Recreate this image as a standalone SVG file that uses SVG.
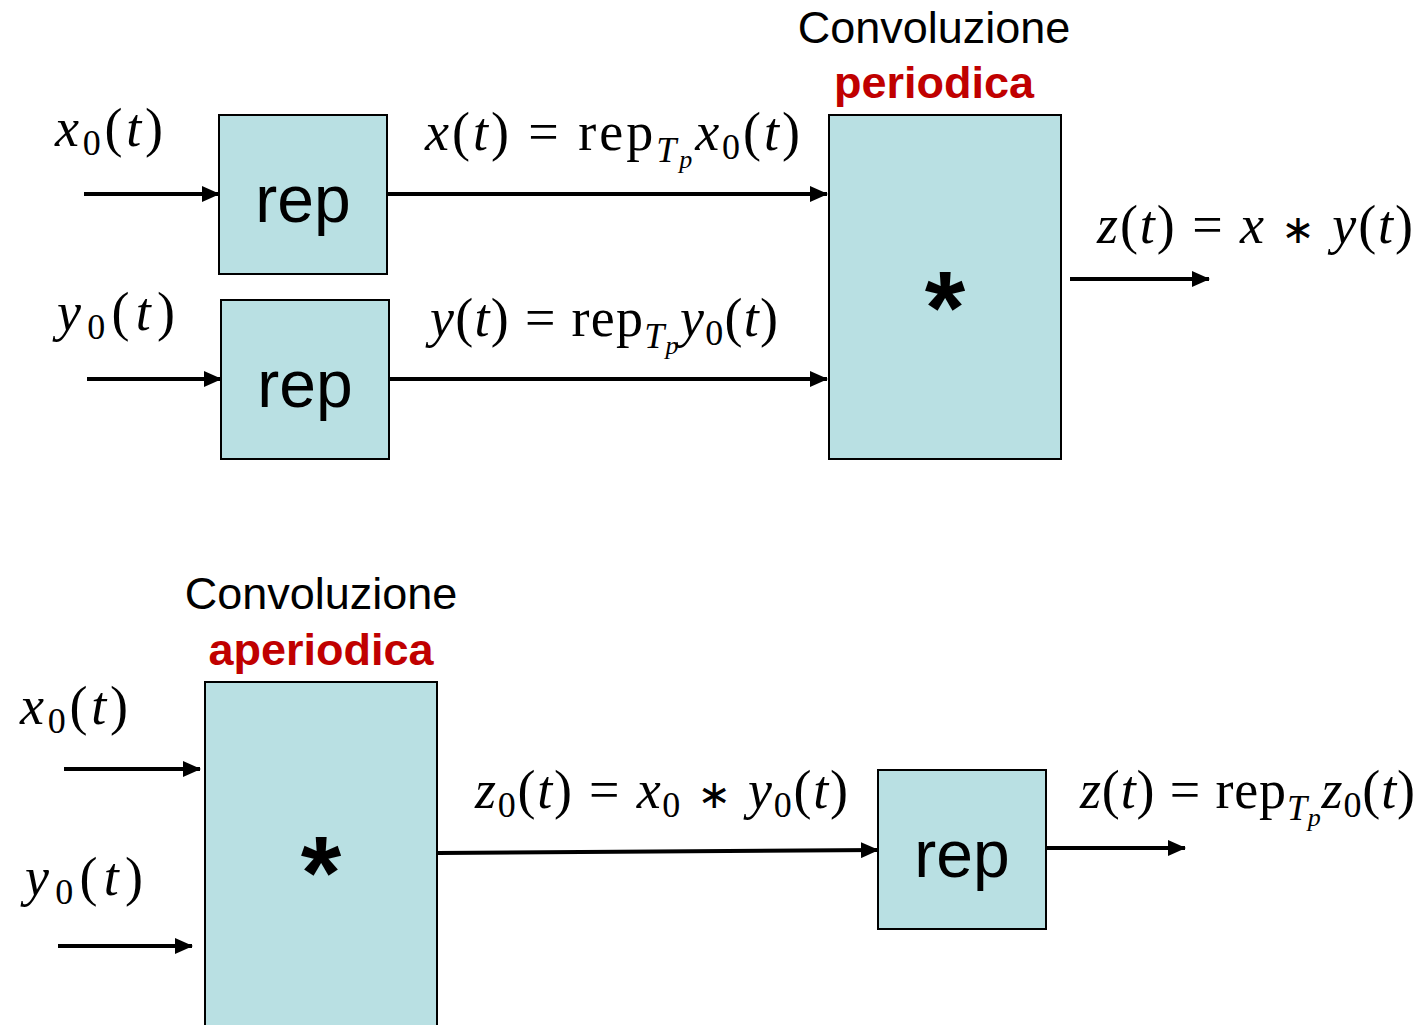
<svg xmlns="http://www.w3.org/2000/svg" width="1423" height="1025" viewBox="0 0 1423 1025">
<defs>
<marker id="ah" markerWidth="18" markerHeight="16" refX="17" refY="8" orient="auto" markerUnits="userSpaceOnUse" viewBox="0 0 18 16">
<path d="M0,0 L18,8 L0,16 z" fill="#000"/>
</marker>
<style>
.box{fill:#B9E0E3;stroke:#000;stroke-width:2}
.wire{stroke:#000;stroke-width:4;fill:none;marker-end:url(#ah)}
.rep{font-family:"Liberation Sans",Arial,sans-serif;font-size:66px;text-anchor:middle;fill:#000}
.star{font-family:"Liberation Sans",Arial,sans-serif;font-size:104px;font-weight:bold;text-anchor:middle;fill:#000}
.cap{font-family:"Liberation Sans",Arial,sans-serif;font-size:45px;text-anchor:middle;fill:#000}
.red{font-family:"Liberation Sans",Arial,sans-serif;font-size:45px;font-weight:bold;text-anchor:middle;fill:#C00000}
.m{font-family:"Liberation Serif","Times New Roman",serif;font-size:54px;fill:#000}
.i{font-style:italic}
.s{font-size:36px}
.ss{font-size:26px}
.ast{font-family:"DejaVu Sans",sans-serif;font-size:40px}
</style>
</defs>
<rect width="1423" height="1025" fill="#fff"/>
<g id="connectors">
<line class="wire" x1="84" y1="194" x2="219" y2="194"/>
<line class="wire" x1="87" y1="379" x2="221" y2="379"/>
<line class="wire" x1="388" y1="194" x2="827" y2="194"/>
<line class="wire" x1="390" y1="379" x2="827" y2="379"/>
<line class="wire" x1="1070" y1="279" x2="1209" y2="279"/>
<line class="wire" x1="64" y1="769" x2="200" y2="769"/>
<line class="wire" x1="58" y1="946" x2="192" y2="946"/>
<line class="wire" x1="438" y1="853" x2="878" y2="850"/>
<line class="wire" x1="1047" y1="848" x2="1185" y2="848"/>
</g>
<g id="rep1"><rect class="box" x="219" y="115" width="168" height="159"/><text class="rep" x="303" y="222">rep</text></g>
<g id="rep2"><rect class="box" x="221" y="300" width="168" height="159"/><text class="rep" x="305" y="407">rep</text></g>
<g id="conv1"><rect class="box" x="829" y="115" width="232" height="344"/><text class="star" x="945" y="344">*</text></g>
<g id="label-periodica"><text class="cap" x="934" y="43">Convoluzione</text><text class="red" x="934" y="98">periodica</text></g>
<g id="conv2"><rect class="box" x="205" y="682" width="232" height="345"/><text class="star" x="321" y="909">*</text></g>
<g id="label-aperiodica"><text class="cap" x="321" y="609">Convoluzione</text><text class="red" x="321" y="665">aperiodica</text></g>
<g id="rep3"><rect class="box" x="878" y="770" width="168" height="159"/><text class="rep" x="962" y="877">rep</text></g>
<g id="labels">
<text class="m" x="55" y="146" textLength="108" lengthAdjust="spacing"><tspan class="i">x</tspan><tspan class="s" dy="9">0</tspan><tspan dy="-9">(</tspan><tspan class="i">t</tspan>)</text>
<text class="m" x="57" y="330" textLength="118" lengthAdjust="spacing"><tspan class="i">y</tspan><tspan class="s" dy="9">0</tspan><tspan dy="-9">(</tspan><tspan class="i">t</tspan>)</text>
<text class="m" x="425" y="150" textLength="375" lengthAdjust="spacing"><tspan class="i">x</tspan>(<tspan class="i">t</tspan>) = rep<tspan class="s i" dy="12">T</tspan><tspan class="ss i" dy="6">p</tspan><tspan class="i" dy="-18">x</tspan><tspan class="s" dy="9">0</tspan><tspan dy="-9">(</tspan><tspan class="i">t</tspan>)</text>
<text class="m" x="430" y="336" textLength="348" lengthAdjust="spacing"><tspan class="i">y</tspan>(<tspan class="i">t</tspan>) = rep<tspan class="s i" dy="12">T</tspan><tspan class="ss i" dy="6">p</tspan><tspan class="i" dy="-18">y</tspan><tspan class="s" dy="9">0</tspan><tspan dy="-9">(</tspan><tspan class="i">t</tspan>)</text>
<text class="m" x="1097" y="243" textLength="316" lengthAdjust="spacing"><tspan class="i">z</tspan>(<tspan class="i">t</tspan>) = <tspan class="i">x</tspan> <tspan class="ast">∗</tspan> <tspan class="i">y</tspan>(<tspan class="i">t</tspan>)</text>
<text class="m" x="20" y="724" textLength="108" lengthAdjust="spacing"><tspan class="i">x</tspan><tspan class="s" dy="9">0</tspan><tspan dy="-9">(</tspan><tspan class="i">t</tspan>)</text>
<text class="m" x="25" y="895" textLength="118" lengthAdjust="spacing"><tspan class="i">y</tspan><tspan class="s" dy="9">0</tspan><tspan dy="-9">(</tspan><tspan class="i">t</tspan>)</text>
<text class="m" x="475" y="808" textLength="373" lengthAdjust="spacing"><tspan class="i">z</tspan><tspan class="s" dy="9">0</tspan><tspan dy="-9">(</tspan><tspan class="i">t</tspan>) = <tspan class="i">x</tspan><tspan class="s" dy="9">0</tspan><tspan dy="-9"> </tspan><tspan class="ast">∗</tspan> <tspan class="i">y</tspan><tspan class="s" dy="9">0</tspan><tspan dy="-9">(</tspan><tspan class="i">t</tspan>)</text>
<text class="m" x="1080" y="808" textLength="335" lengthAdjust="spacing"><tspan class="i">z</tspan>(<tspan class="i">t</tspan>) = rep<tspan class="s i" dy="12">T</tspan><tspan class="ss i" dy="6">p</tspan><tspan class="i" dy="-18">z</tspan><tspan class="s" dy="9">0</tspan><tspan dy="-9">(</tspan><tspan class="i">t</tspan>)</text>
</g>
</svg>
